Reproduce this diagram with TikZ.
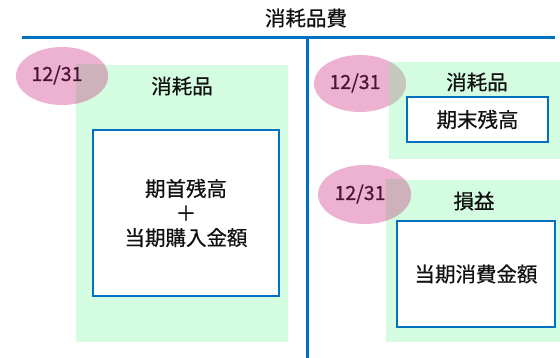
\documentclass[tikz,border=0pt]{standalone}
\usepackage{fontspec}
\setmainfont{Noto Sans CJK JP}[RawFeature={embolden=0.6}]
\usetikzlibrary{shapes.geometric}
\definecolor{lineblue}{HTML}{0070C0}
\definecolor{mint}{HTML}{D3FCE0}
\definecolor{pinkc}{HTML}{EDB1D1}
\definecolor{ovpink}{HTML}{CDB1BB}
\definecolor{ovgreen}{HTML}{C6C8BE}
\definecolor{datetext}{HTML}{4A1631}
\definecolor{txt}{HTML}{111111}
\tikzset{
  panel/.style={rectangle, fill=mint, draw=none, inner sep=0pt},
  dateoval/.style={ellipse, fill=pinkc, draw=none, inner sep=0pt},
  datelabel/.style={text=datetext, font=\fontsize{19.5}{22}\selectfont, inner sep=0pt},
  whitebox/.style={rectangle, fill=white, draw=lineblue, line width=2.5pt, inner sep=0pt, text=txt,
    font=\fontsize{20.5}{24.5}\selectfont, align=center},
  heading/.style={text=txt, font=\fontsize{20.5}{24}\selectfont, inner sep=0pt},
  rule/.style={draw=lineblue, line width=3pt}
}
\begin{document}
\begin{tikzpicture}[x=1pt,y=-1pt]
\useasboundingbox (0,0) rectangle (560,358);
% green panels
\node[panel, minimum width=212pt, minimum height=277pt] (lp) at (182,203.5) {};
\node[panel, minimum width=171pt, minimum height=97pt] (rp) at (474.5,110.5) {};
\node[panel, minimum width=174pt, minimum height=162pt] (bp) at (473,261) {};
% date ovals
\node[dateoval, minimum width=92pt, minimum height=58pt] (le) at (62,76) {};
\node[dateoval, minimum width=92pt, minimum height=57pt] (re) at (360,83.5) {};
\node[dateoval, minimum width=93pt, minimum height=59pt] (be) at (364.5,194.5) {};
% overlaps
\begin{scope}
  \clip (lp.south west) rectangle (lp.north east);
  \fill[ovpink] (le.center) ellipse [x radius=46pt, y radius=29pt];
\end{scope}
\begin{scope}
  \clip (rp.south west) rectangle (rp.north east);
  \fill[ovgreen] (re.center) ellipse [x radius=46pt, y radius=28.5pt];
\end{scope}
\begin{scope}
  \clip (bp.south west) rectangle (bp.north east);
  \fill[ovpink] (be.center) ellipse [x radius=46.5pt, y radius=29.5pt];
\end{scope}
% date labels
\node[datelabel] (ld) at (57,75) {12/31};
\node[datelabel] (rd) at (355,83) {12/31};
\node[datelabel] (bd) at (360,194) {12/31};
% white boxes
\node[whitebox, minimum width=186pt, minimum height=166pt] (lb) at (186,213) {期首残高\\＋\\当期購入金額};
\node[whitebox, minimum width=141pt, minimum height=45pt] (rb) at (477.5,119.5) {期末残高};
\node[whitebox, minimum width=158pt, minimum height=106pt] (bb) at (476,274) {当期消費金額};
% headings
\node[heading] (title) at (306,18) {消耗品費};
\node[heading] (lh) at (182,86) {消耗品};
\node[heading] (rh) at (477,82) {消耗品};
\node[heading] (bh) at (474,201) {損益};
% T-account rules
\coordinate (hl) at (22,37.7);
\coordinate (hr) at (555,37.7);
\coordinate (vt) at (307,37.7);
\coordinate (vb) at (307,358);
\draw[rule] (hl) -- (hr);
\draw[rule] (vt) -- (vb);
\end{tikzpicture}
\end{document}
